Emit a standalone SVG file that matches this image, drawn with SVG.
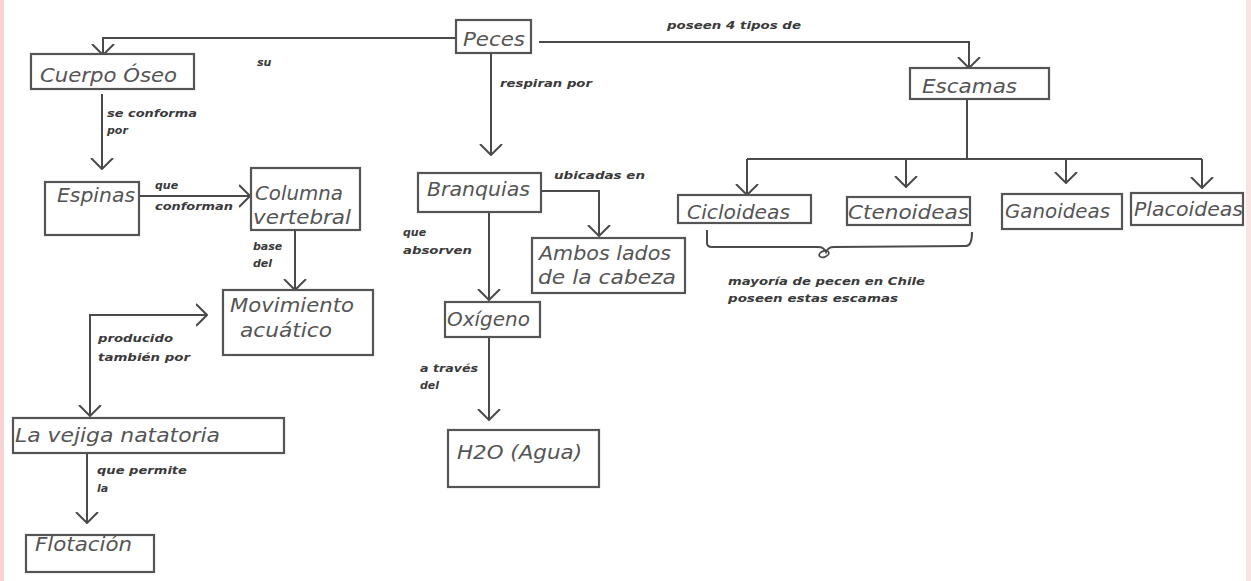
<svg xmlns="http://www.w3.org/2000/svg" width="1251" height="581" viewBox="0 0 1251 581">
<defs>
<marker id="arr" markerUnits="userSpaceOnUse" viewBox="0 0 12 24" refX="11" refY="12" markerWidth="12" markerHeight="24" orient="auto">
<path d="M0,1 L11,12 L0,23" fill="none" stroke="#4a4a4a" stroke-width="2"/>
</marker>
<style>
.box{fill:#fff;stroke:#555;stroke-width:2.2}
.t{font-family:"DejaVu Sans","Liberation Sans",sans-serif;font-style:oblique;font-size:20px;fill:#555}
.l{font-family:"DejaVu Sans","Liberation Sans",sans-serif;font-style:oblique;font-weight:bold;font-size:11px;fill:#3a3a3a}
.c{fill:none;stroke:#4a4a4a;stroke-width:2}
.a{marker-end:url(#arr)}
</style>
</defs>
<rect width="1251" height="581" fill="#fff"/>
<rect x="0" y="0" width="4" height="581" fill="#f6d4d4"/>
<rect x="1246" y="0" width="5" height="581" fill="#f9e4e4"/>

<g id="connectors">
<path class="c a" d="M456,38 L103,38 L103,55"/>
<path class="c a" d="M539,42 L969,42 L969,68"/>
<path class="c a" d="M491,53 L491,155"/>
<path class="c a" d="M102,94 L102,169"/>
<path class="c a" d="M139,196 L250,196"/>
<path class="c a" d="M295,230 L295,290"/>
<path class="c a" d="M207,315 L90,315 L90,416"/>
<path class="c a" d="M150,315 L207,315"/>
<path class="c a" d="M87,453 L87,523"/>
<path class="c a" d="M541,191 L599,191 L599,236"/>
<path class="c a" d="M489,212 L489,300"/>
<path class="c a" d="M489,337 L489,420"/>
<path class="c" d="M967,99 L967,159 M747,159 L1202,159"/>
<path class="c a" d="M747,159 L747,195"/>
<path class="c a" d="M906,159 L906,187"/>
<path class="c a" d="M1066,159 L1066,183"/>
<path class="c a" d="M1202,159 L1202,188"/>
<path class="c" d="M707,230 L707,243 Q707,247 712,247 L818,247 Q824,247 826,252 Q828,247 834,247 L966,246 Q972,246 972,232"/>
<ellipse cx="824" cy="254" rx="5" ry="3" fill="none" stroke="#4a4a4a" stroke-width="1.8" transform="rotate(-20 824 254)"/>
<text class="l" x="257" y="66">su</text>
<text class="l" x="667" y="29" textLength="134" lengthAdjust="spacingAndGlyphs">poseen 4 tipos de</text>
<text class="l" x="500" y="87" textLength="92" lengthAdjust="spacingAndGlyphs">respiran por</text>
<text class="l" x="107" y="117" textLength="90" lengthAdjust="spacingAndGlyphs">se conforma</text>
<text class="l" x="107" y="134">por</text>
<text class="l" x="155" y="189">que</text>
<text class="l" x="155" y="210" textLength="78" lengthAdjust="spacingAndGlyphs">conforman</text>
<text class="l" x="253" y="250">base</text>
<text class="l" x="253" y="267">del</text>
<text class="l" x="98" y="342" textLength="75" lengthAdjust="spacingAndGlyphs">producido</text>
<text class="l" x="98" y="361" textLength="92" lengthAdjust="spacingAndGlyphs">también por</text>
<text class="l" x="97" y="474" textLength="90" lengthAdjust="spacingAndGlyphs">que permite</text>
<text class="l" x="97" y="492">la</text>
<text class="l" x="554" y="179" textLength="91" lengthAdjust="spacingAndGlyphs">ubicadas en</text>
<text class="l" x="403" y="236">que</text>
<text class="l" x="403" y="254" textLength="69" lengthAdjust="spacingAndGlyphs">absorven</text>
<text class="l" x="420" y="372" textLength="58" lengthAdjust="spacingAndGlyphs">a través</text>
<text class="l" x="420" y="389">del</text>
<text class="l" x="728" y="285" textLength="197" lengthAdjust="spacingAndGlyphs">mayoría de pecen en Chile</text>
<text class="l" x="728" y="302" textLength="170" lengthAdjust="spacingAndGlyphs">poseen estas escamas</text>
</g>

<g id="peces"><rect class="box" x="456" y="20" width="75" height="33"/><text class="t" x="463" y="46" textLength="62" lengthAdjust="spacingAndGlyphs">Peces</text></g>
<g id="cuerpo"><rect class="box" x="31" y="54" width="163" height="35"/><text class="t" x="40" y="82" textLength="137" lengthAdjust="spacingAndGlyphs">Cuerpo Óseo</text></g>
<g id="espinas"><rect class="box" x="45" y="182" width="94" height="53"/><text class="t" x="57" y="202" textLength="78" lengthAdjust="spacingAndGlyphs">Espinas</text></g>
<g id="columna"><rect class="box" x="251" y="168" width="109" height="62"/><text class="t" x="255" y="200" textLength="88" lengthAdjust="spacingAndGlyphs">Columna</text><text class="t" x="253" y="224" textLength="98" lengthAdjust="spacingAndGlyphs">vertebral</text></g>
<g id="movimiento"><rect class="box" x="223" y="290" width="150" height="65"/><text class="t" x="230" y="312" textLength="124" lengthAdjust="spacingAndGlyphs">Movimiento</text><text class="t" x="240" y="337" textLength="92" lengthAdjust="spacingAndGlyphs">acuático</text></g>
<g id="vejiga"><rect class="box" x="13" y="418" width="271" height="35"/><text class="t" x="15" y="442" textLength="205" lengthAdjust="spacingAndGlyphs">La vejiga natatoria</text></g>
<g id="flotacion"><rect class="box" x="26" y="535" width="128" height="37"/><text class="t" x="35" y="551" textLength="97" lengthAdjust="spacingAndGlyphs">Flotación</text></g>
<g id="branquias"><rect class="box" x="418" y="173" width="123" height="39"/><text class="t" x="427" y="196" textLength="103" lengthAdjust="spacingAndGlyphs">Branquias</text></g>
<g id="ambos"><rect class="box" x="532" y="238" width="153" height="55"/><text class="t" x="539" y="260" textLength="132" lengthAdjust="spacingAndGlyphs">Ambos lados</text><text class="t" x="538" y="284" textLength="138" lengthAdjust="spacingAndGlyphs">de la cabeza</text></g>
<g id="oxigeno"><rect class="box" x="445" y="302" width="95" height="35"/><text class="t" x="447" y="326" textLength="83" lengthAdjust="spacingAndGlyphs">Oxígeno</text></g>
<g id="h2o"><rect class="box" x="448" y="430" width="151" height="57"/><text class="t" x="457" y="459" textLength="125" lengthAdjust="spacingAndGlyphs">H2O (Agua)</text></g>
<g id="escamas"><rect class="box" x="910" y="68" width="139" height="31"/><text class="t" x="922" y="93" textLength="95" lengthAdjust="spacingAndGlyphs">Escamas</text></g>
<g id="cicloideas"><rect class="box" x="678" y="195" width="133" height="28"/><text class="t" x="687" y="219" textLength="103" lengthAdjust="spacingAndGlyphs">Cicloideas</text></g>
<g id="ctenoideas"><rect class="box" x="847" y="197" width="123" height="28"/><text class="t" x="848" y="219" textLength="121" lengthAdjust="spacingAndGlyphs">Ctenoideas</text></g>
<g id="ganoideas"><rect class="box" x="1002" y="194" width="120" height="35"/><text class="t" x="1005" y="218" textLength="105" lengthAdjust="spacingAndGlyphs">Ganoideas</text></g>
<g id="placoideas"><rect class="box" x="1131" y="193" width="112" height="32"/><text class="t" x="1134" y="216" textLength="109" lengthAdjust="spacingAndGlyphs">Placoideas</text></g>
</svg>
